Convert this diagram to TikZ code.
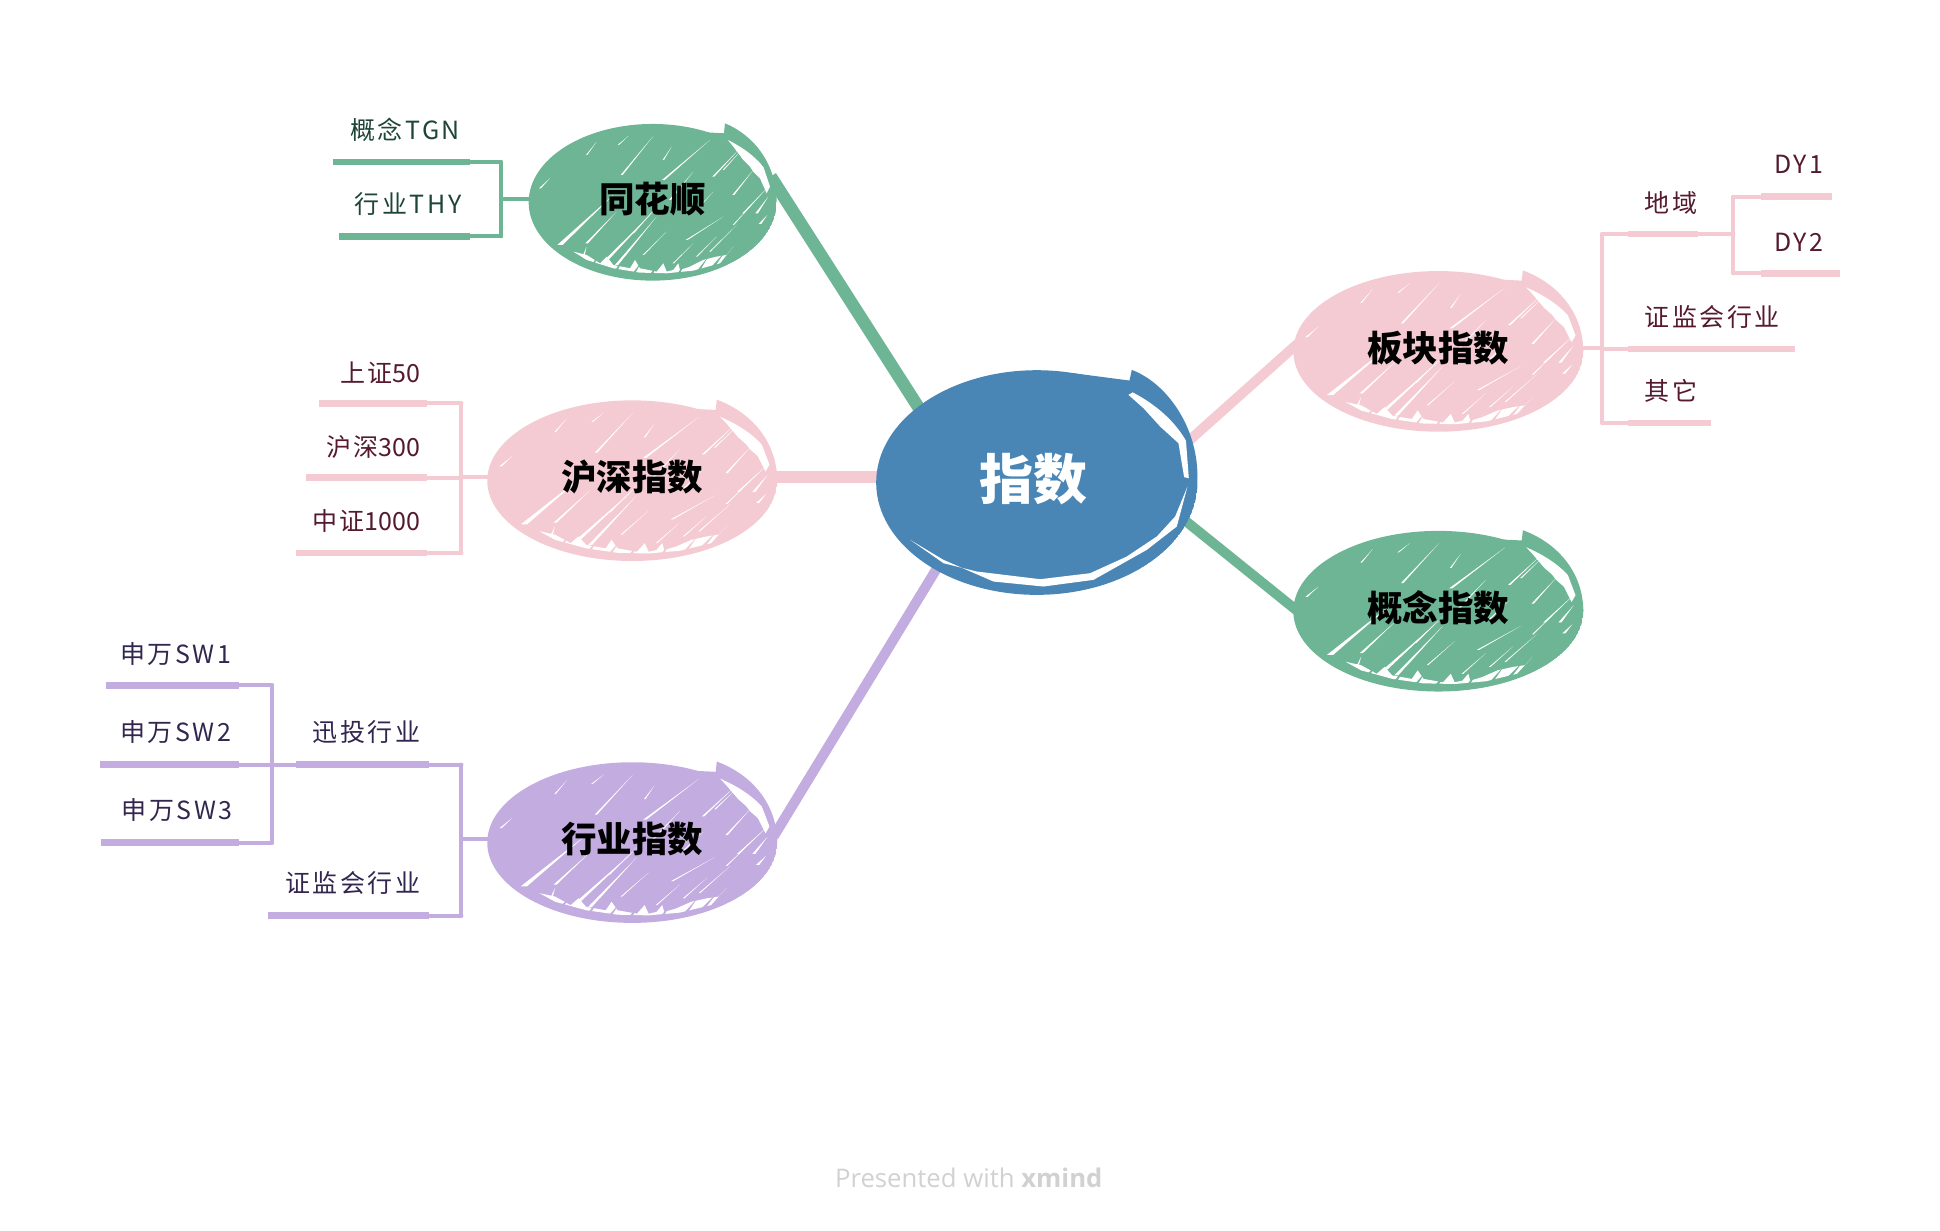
\documentclass[tikz,border=0pt]{standalone}
\usepackage{fontspec}
\setmainfont{Noto Sans CJK SC}
\newfontfamily\footfont{Open Sans}
\usetikzlibrary{shapes.geometric}
\definecolor{cgreen}{HTML}{6DB595}
\definecolor{cpink}{HTML}{F5CBD3}
\definecolor{cpurple}{HTML}{C3ACE0}
\definecolor{cblue}{HTML}{4A86B5}
\definecolor{tgreen}{HTML}{1E4538}
\definecolor{tpink}{HTML}{551A30}
\definecolor{tpurple}{HTML}{32264F}
\pgfdeclarelayer{bg}
\pgfsetlayers{bg,main}
\newcommand{\nsp}[1]{{\addfontfeature{LetterSpace=0}#1}}
\newcommand{\hatchmarks}[1]{%
  \foreach \xa/\ya/\xb/\yb/\w in {
    720/435/880/285/8, 660/265/690/235/3, 800/165/830/125/2, 905/225/1000/108/3,
    895/135/925/108/2, 1030/180/1055/140/2, 1030/240/1170/120/4, 800/430/890/335/4,
    850/490/1000/335/6, 890/495/1010/350/5, 1100/420/1210/350/3, 1180/230/1260/145/3,
    1240/285/1300/210/3, 1270/340/1345/260/3, 1310/340/1345/290/4, 1320/372/1342/345/4,
    1060/490/1120/430/2, 1170/455/1250/375/2, 1050/300/1120/215/3, 790/470/800/440/3,
    1210/210/1265/150/2, 1130/330/1180/275/2, 940/400/1010/320/2, 1240/375/1290/320/2,
    1130/470/1190/410/2, 970/465/1040/395/2}
    {\fill[white] (\xa-\w,\ya) -- (\xa+\w,\ya) -- (\xb,\yb) -- cycle;}
  \fill[white] (1222,118) -- (1290,150) -- (1330,200) -- (1350,260) -- (1340,280) -- (1320,235)
     -- (1300,215) -- (1290,200) -- (1270,180) -- (1255,160) -- (1240,140) -- cycle;
  \fill[white] (760,455) -- (800,480) -- (880,505) -- (960,518) -- (1040,520) -- (1120,512)
     -- (1200,490) -- (1240,440) -- (1220,465) -- (1190,470) -- (1150,480) -- (1110,500)
     -- (1080,510) -- (1075,490) -- (1060,510) -- (1040,515) -- (1030,490) -- (1010,515)
     -- (960,505) -- (945,480) -- (930,505) -- (880,495) -- (860,470) -- (840,490) -- (800,465) -- cycle;
  \foreach \xa/\ya/\xb/\yb in {
    810/505/845/455, 880/525/915/470, 935/530/965/485, 990/530/1015/490,
    1070/530/1095/490, 1130/520/1165/470, 1180/500/1215/455}
    {\fill[#1] (\xa-5,\ya) -- (\xa+5,\ya) -- (\xb,\yb) -- cycle;}
}
\tikzset{
  x=1.2372pt,y=-1.2372pt,
  rootnode/.style={ellipse,inner sep=0pt,text=white,minimum width=321pt,minimum height=225pt,
    font=\bfseries\fontsize{54}{54}\selectfont},
  topicnode/.style n args={2}{ellipse,inner sep=0pt,text=black,minimum width=#1pt,minimum height=#2pt,
    font=\bfseries\fontsize{35.5}{36}\selectfont},
  leaf/.style={inner sep=0pt,font=\fontsize{25}{25}\selectfont\addfontfeature{LetterSpace=10}},
  branch/.style={line width=12.5pt,shorten >=-10pt,shorten <=-6pt},
  thinline/.style={line width=4pt,line cap=round},
  thickline/.style={line width=6.5pt},
}
% #1 name #2 x #3 y #4 width #5 height #6 colour #7 text
\newcommand{\bubble}[7]{%
  \begin{scope}[shift={(#2,#3)},xscale=.2694*#4/248,yscale=.2694*#5/157,shift={(-998,-307)}]
    \fill[#6] (1215,70) .. controls (1310,110) and (1370,200) .. (1370,307) -- (1250,250) -- (1120,95) -- (1212,100) -- cycle;
    \begin{scope}
      \path[clip] (998,307) ellipse [x radius=372,y radius=235];
      \fill[#6] (998,307) ellipse [x radius=372,y radius=235];
      \hatchmarks{#6}
    \end{scope}
  \end{scope}
  \node[topicnode={#4}{#5}] (#1) at (#2,#3-3) {#7};}
\newcommand{\twig}[6]{%
  \coordinate (#2a) at (#3,#6); \coordinate (#2b) at (#4,#6); \coordinate (#2c) at (#5,#6);
  \draw[thickline,#1] (#2a) -- (#2b);
  \draw[thinline,#1] (#2b) -- (#2c);}
\begin{document}
\begin{tikzpicture}
\useasboundingbox (0,0) rectangle (1568,994.2);
% central bubble
\begin{scope}[shift={(838,390)},scale=.2694,shift={(-530,-428)}]
  \fill[cblue] (815,90) .. controls (920,130) and (1012,260) .. (1012,410) -- (800,300) -- (640,100) -- (808,122) -- cycle;
  \begin{scope}
    \path[clip] (530,428) ellipse [x radius=482,y radius=337];
    \fill[cblue] (530,428) ellipse [x radius=482,y radius=337];
    \fill[white] (805,165) -- (830,150) -- (900,190) -- (975,270) -- (986,415) -- (972,412) -- (955,310)
      -- (900,260) -- (850,205) -- cycle;
    \fill[white] (982,440) -- (950,560) -- (860,630) -- (700,720) -- (550,740) -- (400,725) -- (250,660)
      -- (150,600) -- (250,670) -- (350,695) -- (540,718) -- (690,700) -- (800,650) -- (890,590) -- (945,530) -- cycle;
  \end{scope}
\end{scope}
\node[rootnode] (rootn) at (835,387) {指数};
% topic bubbles
\bubble{ths}{527.5}{163.5}{248}{157}{cgreen}{同花顺}
\bubble{hs}{511}{388.5}{290}{161}{cpink}{沪深指数}
\bubble{hy}{511}{681}{290}{161}{cpurple}{行业指数}
\bubble{bk}{1162.5}{284}{290}{161}{cpink}{板块指数}
\bubble{gn}{1162.5}{494}{290}{161}{cgreen}{概念指数}
% main connectors
\begin{pgfonlayer}{bg}
\draw[branch,cgreen] (ths.8) -- (rootn.147);
\draw[branch,cpink] (hs.east) -- (hs.east -| rootn.west);
\draw[branch,cpurple,line width=10pt] (hy.3) -- (rootn.-137);
\draw[branch,cpink,line width=10pt] (bk.west) -- (rootn.13);
\draw[branch,cgreen,line width=10pt] (gn.west) -- (rootn.-15);
\end{pgfonlayer}
% tonghuashun
\node[leaf,text=tgreen,anchor=east] (l1) at (372,105) {概念TGN};
\node[leaf,text=tgreen,anchor=east] (l2) at (373,165) {行业THY};
\twig{cgreen}{t1}{269}{380}{405}{131}
\twig{cgreen}{t2}{274}{380}{405}{191}
\draw[thinline,cgreen] (t1c) -- (t2c);
\draw[thinline,cgreen] (ths.west) -- (ths.west -| t1c);
% hushen
\node[leaf,text=tpink,anchor=east] (l3) at (340,301) {上证\nsp{50}};
\node[leaf,text=tpink,anchor=east] (l4) at (340,361) {沪深\nsp{300}};
\node[leaf,text=tpink,anchor=east] (l5) at (340,421) {中证\nsp{1000}};
\twig{cpink}{h1}{258}{345}{373}{326}
\twig{cpink}{h2}{247}{345}{373}{386}
\twig{cpink}{h3}{239}{345}{373}{447}
\draw[thinline,cpink] (h1c) -- (h3c);
\draw[thinline,cpink] (hs.west) -- (hs.west -| h1c);
% hangye
\node[leaf,text=tpurple,anchor=east] (l6) at (340,592) {迅投行业};
\node[leaf,text=tpurple,anchor=east] (l7) at (340,714) {证监会行业};
\node[leaf,text=tpurple,anchor=east] (l8) at (187,529) {申万SW1};
\node[leaf,text=tpurple,anchor=east] (l9) at (187,592) {申万SW2};
\node[leaf,text=tpurple,anchor=east] (l10) at (188,655) {申万SW3};
\twig{cpurple}{y1}{239}{347}{373}{618}
\twig{cpurple}{y2}{217}{347}{373}{740}
\draw[thinline,cpurple] (y1c) -- (y2c);
\draw[thinline,cpurple] (hy.west) -- (hy.west -| y1c);
\twig{cpurple}{s1}{86}{193}{220}{554}
\twig{cpurple}{s2}{81}{193}{220}{618}
\twig{cpurple}{s3}{82}{193}{220}{681}
\draw[thinline,cpurple] (s1c) -- (s3c);
\draw[thinline,cpurple] (y1a) -- (s2c);
% bankuai
\node[leaf,text=tpink,anchor=west] (r1) at (1329,164) {地域};
\node[leaf,text=tpink,anchor=west] (r2) at (1329,256) {证监会行业};
\node[leaf,text=tpink,anchor=west] (r3) at (1329,316) {其它};
\node[leaf,text=tpink,anchor=west] (r4) at (1434,133) {DY1};
\node[leaf,text=tpink,anchor=west] (r5) at (1434,196) {DY2};
\twig{cpink}{b1}{1372}{1316}{1295}{189}
\twig{cpink}{b2}{1451}{1316}{1295}{282}
\twig{cpink}{b3}{1383}{1316}{1295}{342}
\draw[thinline,cpink] (b1c) -- (b3c);
\draw[thinline,cpink] (bk.east) -- (bk.east -| b1c);
\twig{cpink}{d1}{1481}{1423}{1401}{159}
\twig{cpink}{d2}{1487}{1423}{1401}{221}
\draw[thinline,cpink] (d1c) -- (d2c);
\draw[thinline,cpink] (b1a) -- (b1a -| d1c);
% footer
\node[inner sep=0pt,text=black!18,font=\footfont\fontsize{25.7}{26}\selectfont] (foot) at (783,952) {Presented with \textbf{xmind}};
\end{tikzpicture}
\end{document}
